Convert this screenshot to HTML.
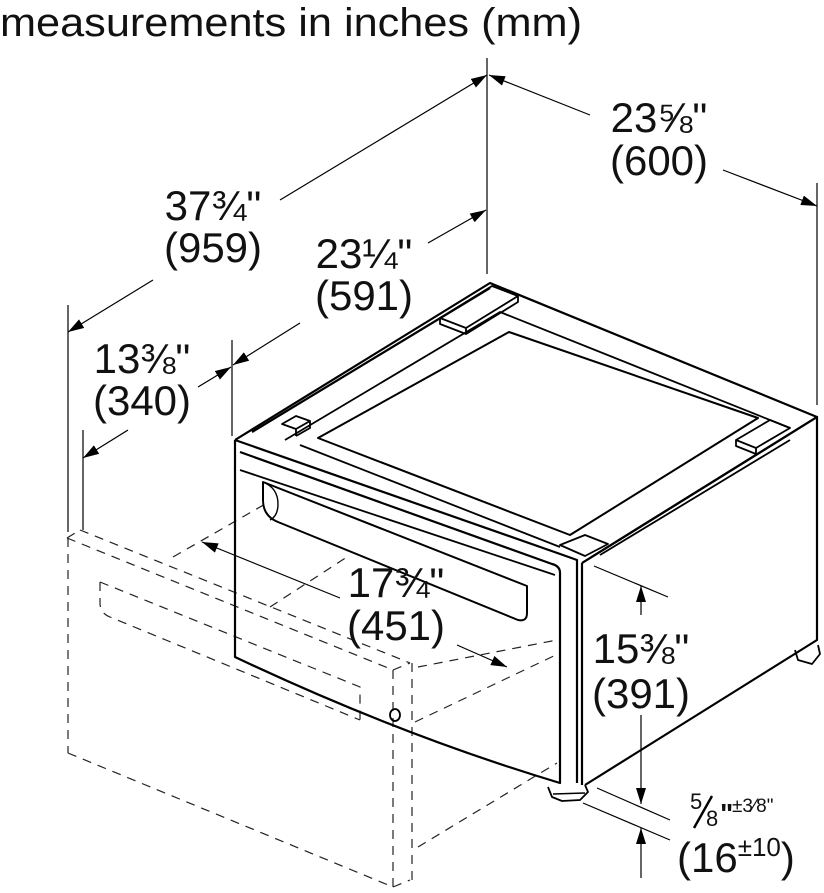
<!DOCTYPE html>
<html><head><meta charset="utf-8"><style>
html,body{margin:0;padding:0;background:#fff;}
svg{display:block;}
text{font-family:"Liberation Sans","DejaVu Sans",sans-serif;fill:#111;}
</style></head><body>
<svg width="824" height="893" viewBox="0 0 824 893" xmlns="http://www.w3.org/2000/svg">
<defs>
<marker id="a" viewBox="0 0 16 10" refX="16" refY="5" markerWidth="16" markerHeight="10" markerUnits="userSpaceOnUse" orient="auto">
<path d="M0,0 L16,5 L0,10 Z" fill="#000"/></marker>
</defs>
<text x="0" y="36" font-size="40" textLength="582" lengthAdjust="spacingAndGlyphs">measurements in inches (mm)</text>

<g stroke="#000" stroke-width="1.2" fill="none">
<line x1="487" y1="58" x2="487" y2="274"/>
<line x1="817" y1="183" x2="817" y2="405"/>
<line x1="68" y1="305" x2="68" y2="532"/>
<line x1="232" y1="340" x2="232" y2="436"/>
<line x1="83" y1="430" x2="83" y2="530"/>
<line x1="280" y1="200" x2="487" y2="75" marker-end="url(#a)"/>
<line x1="153" y1="280" x2="68" y2="332" marker-end="url(#a)"/>
<line x1="590" y1="115" x2="489" y2="75" marker-end="url(#a)"/>
<line x1="723" y1="170" x2="817" y2="206" marker-end="url(#a)"/>
<line x1="428" y1="243" x2="486" y2="210" marker-end="url(#a)"/>
<line x1="300" y1="323" x2="233" y2="365" marker-end="url(#a)"/>
<line x1="198" y1="387" x2="231" y2="367" marker-end="url(#a)"/>
<line x1="128" y1="430" x2="83" y2="458" marker-end="url(#a)"/>
<line x1="340" y1="598" x2="202" y2="542" marker-end="url(#a)"/>
<line x1="457" y1="645" x2="507" y2="667" marker-end="url(#a)"/>
<line x1="594" y1="566" x2="668" y2="597"/>
<line x1="641" y1="615" x2="641" y2="586" marker-end="url(#a)"/>
<line x1="641" y1="715" x2="641" y2="804" marker-end="url(#a)"/>
<line x1="597" y1="788" x2="670" y2="820"/>
<line x1="583" y1="803" x2="670" y2="840"/>
<line x1="641" y1="878" x2="641" y2="828" marker-end="url(#a)"/>
</g>

<g stroke="#222" stroke-width="1.2" fill="none" stroke-dasharray="9,7">
<line x1="67" y1="538" x2="393" y2="670"/>
<line x1="80" y1="530" x2="410" y2="663"/>
<line x1="67" y1="538" x2="80" y2="530"/>
<line x1="393" y1="670" x2="410" y2="663"/>
<line x1="68" y1="538" x2="68" y2="753"/>
<line x1="68" y1="753" x2="393" y2="887"/>
<line x1="393" y1="670" x2="393" y2="887"/>
<line x1="412" y1="663" x2="412" y2="880"/>
<line x1="393" y1="887" x2="410" y2="880"/>
<path d="M100,582 L100,603 Q100,613 110,617 L360,720 M100,582 L360,687 L360,720"/>
<line x1="173" y1="557" x2="267" y2="503"/>
<line x1="270" y1="607" x2="347" y2="557"/>
<line x1="418" y1="667" x2="557" y2="640"/>
<line x1="415" y1="722" x2="560" y2="653"/>
<line x1="418" y1="847" x2="557" y2="763"/>
</g>

<g stroke="#000" stroke-width="2.2" fill="none" stroke-linejoin="round">
<path d="M235,440 L490,283 L817,417 L582,563"/>
<path d="M252,432 L490,288"/>
<path d="M235,440 L235,657 Q400,735 560,783 L560,573 Q560,566 552,564 L240,452"/>
<path d="M235,440 L563,555 L577,560 L577,783"/>
<line x1="240" y1="470" x2="555" y2="575" stroke-width="1.8"/>
<path d="M582,563 L582,785"/>
<path d="M582,563 L817,417 L817,640 L585,785"/>
<path d="M600,555 L790,440" stroke-width="1.8"/>
<path d="M318,438 L509,332 L758,418 L570,535 Z" stroke-width="2"/>
<path d="M285,440 L500,312 L790,428" stroke-width="1.8"/>
<path d="M300,445 L560,547" stroke-width="1.8"/>
<!-- pads -->
<path d="M440,318 L492,286 L518,296 L466,328 Z M440,318 L440,324 L466,334 L466,328 M466,334 L518,302 L518,296" stroke-width="1.8"/>
<path d="M282,424 L296,416 L310,421 L296,429 Z M296,429 L296,436 M310,421 L310,428 L296,436" stroke-width="1.8"/>
<path d="M736,440 L770,420 L790,428 L756,448 Z M736,440 L736,446 L756,454 L756,448" stroke-width="1.8"/>
<path d="M560,545 L585,535 L608,544 L585,556 Z" stroke-width="1.8"/>
<path d="M263,482 L527,586 L527,613 Q527,622 518,620 L278,522 Q263,516 263,500 Z" stroke-width="2"/>
<path d="M263,482 Q278,488 278,504 Q278,516 270,520" stroke-width="1.4"/>
<ellipse cx="395" cy="715" rx="5" ry="6" stroke-width="1.8"/>
<path d="M548,787 L552,797 L562,801 L580,800 L588,792 L585,785" stroke-width="1.8"/>
<line x1="553" y1="794" x2="585" y2="793" stroke-width="1.4"/>
<path d="M795,650 L798,660 L812,664 L820,654 L818,645" stroke-width="1.8"/>
</g>

<g font-size="42" text-anchor="middle">
<text x="659" y="132">23⅝"</text>
<text x="659" y="175">(600)</text>
<text x="213" y="220">37¾"</text>
<text x="213" y="262">(959)</text>
<text x="364" y="268">23¼"</text>
<text x="364" y="310">(591)</text>
<text x="142" y="373">13⅜"</text>
<text x="142" y="415">(340)</text>
<text x="396" y="597">17¾"</text>
<text x="396" y="640">(451)</text>
<text x="641" y="663">15⅜"</text>
<text x="641" y="708">(391)</text>
</g>
<text x="690" y="809" font-size="22">5</text>
<line x1="712" y1="796" x2="694" y2="828" stroke="#000" stroke-width="2.4"/>
<text x="706" y="826" font-size="22">8</text>
<text x="720" y="823" font-size="28" font-weight="bold">"</text>
<text x="732" y="812" font-size="19">±3⁄8"</text>
<text x="677" y="872" font-size="42">(16<tspan font-size="26" dy="-16">±10</tspan><tspan dy="16">)</tspan></text>
</svg>
</body></html>
